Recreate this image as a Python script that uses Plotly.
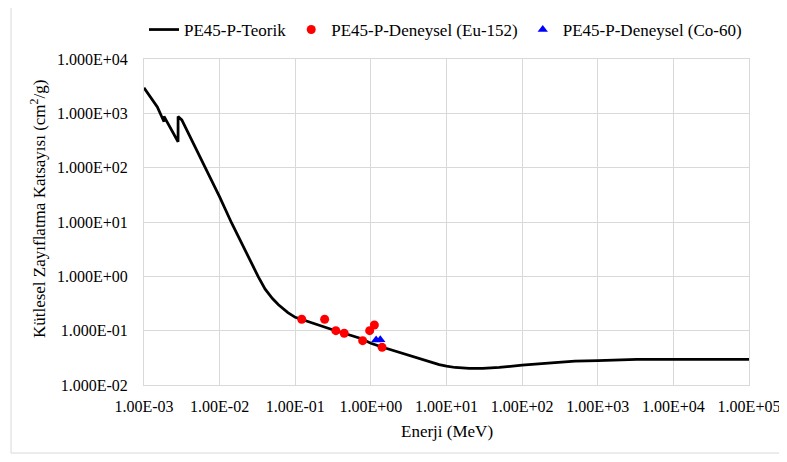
import plotly.graph_objects as go

# Theoretical curve (Energy MeV, mass attenuation cm2/g)
teorik_E = [1.0e-3, 1.5e-3, 1.839e-3, 1.839e-3, 2.822e-3, 2.822e-3, 3.16e-3, 5.0e-3, 7.08e-3,
            1.0e-2, 1.445e-2, 2.16e-2, 3.25e-2, 4.0e-2, 5.0e-2, 6.0e-2, 7.0e-2, 8.0e-2,
            1.0e-1, 1.22e-1, 1.5e-1, 3.2e-1, 7.2e-1, 1.0, 1.4, 2.0, 3.0, 4.5, 6.0, 8.0,
            10.0, 13.0, 20.0, 30.0, 50.0, 100.0, 300.0, 500.0, 1000.0, 2000.0, 3270.0,
            1.0e4, 1.0e5]
teorik_mu = [2950, 1310, 700, 880, 300, 870, 755, 211, 78.7,
             29.0, 9.5, 3.05, 0.98, 0.58, 0.39, 0.30, 0.25, 0.215,
             0.176, 0.16, 0.145, 0.103, 0.0725, 0.0586, 0.0500, 0.043, 0.036, 0.030, 0.0262, 0.0237,
             0.0222, 0.0210, 0.0202, 0.0202, 0.0210, 0.0233, 0.026, 0.0275, 0.028, 0.029, 0.0297,
             0.0297, 0.0297]

# Experimental Eu-152
eu_E = [0.1218, 0.2447, 0.3443, 0.444, 0.7789, 0.964, 1.112, 1.408]
eu_mu = [0.162, 0.162, 0.100, 0.0896, 0.0654, 0.100, 0.127, 0.0494]

# Experimental Co-60
co_E = [1.173, 1.332]
co_mu = [0.067, 0.068]

x_tickvals = [1e-3, 1e-2, 1e-1, 1e0, 1e1, 1e2, 1e3, 1e4, 1e5]
x_ticktext = ["1.00E-03", "1.00E-02", "1.00E-01", "1.00E+00", "1.00E+01",
              "1.00E+02", "1.00E+03", "1.00E+04", "1.00E+05"]
y_tickvals = [1e-2, 1e-1, 1e0, 1e1, 1e2, 1e3, 1e4]
y_ticktext = ["1.000E-02", "1.000E-01", "1.000E+00", "1.000E+01",
              "1.000E+02", "1.000E+03", "1.000E+04"]

FONT = "Liberation Serif"

fig = go.Figure()
fig.add_trace(go.Scatter(x=teorik_E, y=teorik_mu, mode="lines", name="PE45-P-Teorik",
                         line=dict(color="black", width=2.75)))
fig.add_trace(go.Scatter(x=eu_E, y=eu_mu, mode="markers", name="PE45-P-Deneysel (Eu-152)",
                         marker=dict(color="#FF0000", size=9, symbol="circle")))
fig.add_trace(go.Scatter(x=co_E, y=co_mu, mode="markers", name="PE45-P-Deneysel (Co-60)",
                         marker=dict(color="#0000FF", size=9, symbol="triangle-up")))

grid = "#d9d9d9"
fig.update_layout(
    width=787, height=462,
    margin=dict(l=136, r=46, t=51, b=85, autoexpand=False),
    paper_bgcolor="white", plot_bgcolor="white",
    font=dict(family=FONT, size=16, color="black"),
    showlegend=True,
    legend=dict(orientation="h", x=0.0, xanchor="left", y=1.089, yanchor="middle",
                font=dict(family=FONT, size=17, color="black"), bgcolor="rgba(0,0,0,0)",
                itemwidth=30),
    xaxis=dict(type="log", range=[-3, 5], tickmode="array", tickvals=x_tickvals,
               ticktext=x_ticktext, showgrid=True, gridcolor=grid, gridwidth=1,
               showline=True, linecolor=grid, mirror=True, zeroline=False,
               ticks="", ticklabelstandoff=7, ticklabeloverflow="allow",
               tickfont=dict(family=FONT, size=16, color="black")),
    yaxis=dict(type="log", range=[-2, 4], tickmode="array", tickvals=y_tickvals,
               ticktext=y_ticktext, showgrid=True, gridcolor=grid, gridwidth=1,
               showline=True, linecolor=grid, mirror=True, zeroline=False,
               ticks="", ticklabelstandoff=12,
               tickfont=dict(family=FONT, size=16, color="black")),
    annotations=[
        dict(text="Enerji (MeV)", xref="paper", yref="paper", x=0.5, y=-0.144,
             xanchor="center", yanchor="middle", showarrow=False,
             font=dict(family=FONT, size=17, color="black")),
        dict(text="Kütlesel Zayıflatma Katsayısı (cm<sup>2</sup>/g)", xref="paper", yref="paper",
             x=-0.175, y=0.54, xanchor="center", yanchor="middle", textangle=-90,
             showarrow=False, font=dict(family=FONT, size=17, color="black")),
    ],
    shapes=[dict(type="rect", xref="paper", yref="paper", x0=-0.2198, x1=1.2,
                 y0=-0.2086, y1=1.1656, line=dict(color=grid, width=1), layer="below")],
)

fig.write_html("out.html")
